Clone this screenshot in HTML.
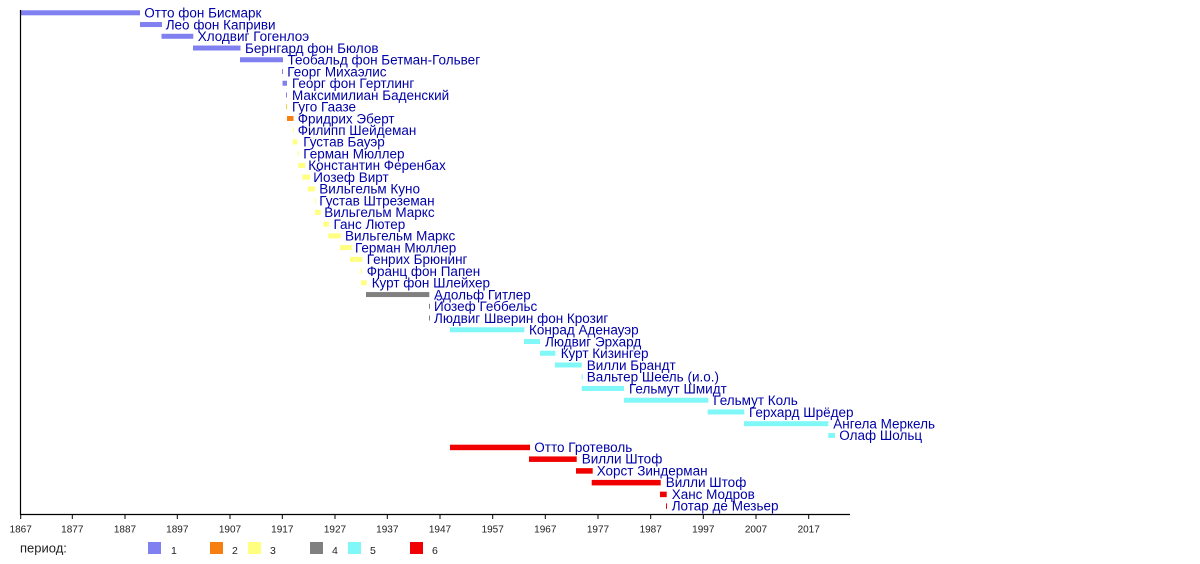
<!DOCTYPE html>
<html>
<head>
<meta charset="utf-8">
<style>
html,body{margin:0;padding:0;background:#fff;}
svg{display:block;}
text{font-family:"Liberation Sans","DejaVu Sans",sans-serif;}
.n{font-size:13.5px;fill:#0000a8;}
.t{font-size:10px;fill:#222;text-anchor:middle;}
.l{font-size:10.5px;fill:#222;}
</style>
</head>
<body>
<svg width="1200" height="564" viewBox="0 0 1200 564" xmlns="http://www.w3.org/2000/svg">
<rect x="0" y="0" width="1200" height="564" fill="#fff"/>
<g>
<rect x="20.5" y="10.3" width="119.5" height="5" fill="#8080f0"/>
<rect x="140" y="22.04" width="22" height="5" fill="#8080f0"/>
<rect x="161.5" y="33.78" width="31.8" height="5" fill="#8080f0"/>
<rect x="193" y="45.52" width="47.5" height="5" fill="#8080f0"/>
<rect x="240" y="57.26" width="43" height="5" fill="#8080f0"/>
<rect x="282" y="69" width="1" height="5" fill="#8080f0"/>
<rect x="282.5" y="80.74" width="4.5" height="5" fill="#8080f0"/>
<rect x="286" y="92.48" width="1" height="5" fill="#8080f0"/>
<rect x="286" y="104.22" width="1" height="5" fill="#f0d040"/>
<rect x="287" y="115.96" width="6.5" height="5" fill="#f58010"/>
<rect x="293" y="127.7" width="1" height="5" fill="#ffff90"/>
<rect x="292.7" y="139.44" width="4.6" height="5" fill="#ffff80"/>
<rect x="297.5" y="151.18" width="1.2" height="5" fill="#ffff90"/>
<rect x="298.3" y="162.92" width="6.7" height="5" fill="#ffff80"/>
<rect x="302.3" y="174.66" width="7.7" height="5" fill="#ffff80"/>
<rect x="307.7" y="186.4" width="7.3" height="5" fill="#ffff80"/>
<rect x="315" y="198.14" width="1" height="5" fill="#ffff90"/>
<rect x="315" y="209.88" width="5.7" height="5" fill="#ffff80"/>
<rect x="323.3" y="221.62" width="5.7" height="5" fill="#ffff80"/>
<rect x="328.3" y="233.36" width="12.4" height="5" fill="#ffff80"/>
<rect x="340" y="245.1" width="11.7" height="5" fill="#ffff80"/>
<rect x="350" y="256.84" width="12.3" height="5" fill="#ffff80"/>
<rect x="360.5" y="268.58" width="1.5" height="5" fill="#ffff90"/>
<rect x="361" y="280.32" width="5.7" height="5" fill="#ffff80"/>
<rect x="366" y="292.06" width="63.3" height="5" fill="#808080"/>
<rect x="429" y="303.8" width="1" height="5" fill="#808080"/>
<rect x="429" y="315.54" width="1" height="5" fill="#808080"/>
<rect x="450" y="327.28" width="74.3" height="5" fill="#80f8f8"/>
<rect x="524" y="339.02" width="16" height="5" fill="#80f8f8"/>
<rect x="540" y="350.76" width="15.3" height="5" fill="#80f8f8"/>
<rect x="555" y="362.5" width="26.7" height="5" fill="#80f8f8"/>
<rect x="581.7" y="374.24" width="1" height="5" fill="#80f8f8"/>
<rect x="581.7" y="385.98" width="42.3" height="5" fill="#80f8f8"/>
<rect x="624" y="397.72" width="84.3" height="5" fill="#80f8f8"/>
<rect x="707.7" y="409.46" width="36.6" height="5" fill="#80f8f8"/>
<rect x="744" y="421.2" width="84.3" height="5" fill="#80f8f8"/>
<rect x="828.3" y="432.94" width="6.7" height="5" fill="#80f8f8"/>
<rect x="450" y="444.68" width="80" height="5.5" fill="#f00000"/>
<rect x="529" y="456.42" width="47.7" height="5.5" fill="#f00000"/>
<rect x="576" y="468.16" width="16.7" height="5.5" fill="#f00000"/>
<rect x="591.7" y="479.9" width="69" height="5.5" fill="#f00000"/>
<rect x="660" y="491.64" width="6.7" height="5.5" fill="#f00000"/>
<rect x="666" y="503.38" width="1" height="5.5" fill="#f00000"/>
</g>
<g class="n">
<text x="144.3" y="17.6">Отто фон Бисмарк</text>
<text x="165.7" y="29.34">Лео фон Каприви</text>
<text x="197.7" y="41.08">Хлодвиг Гогенлоэ</text>
<text x="245" y="52.82">Бернгард фон Бюлов</text>
<text x="287.5" y="64.56">Теобальд фон Бетман-Гольвег</text>
<text x="287.3" y="76.3">Георг Михаэлис</text>
<text x="292" y="88.04">Георг фон Гертлинг</text>
<text x="292" y="99.78">Максимилиан Баденский</text>
<text x="292" y="111.52">Гуго Гаазе</text>
<text x="297.7" y="123.26">Фридрих Эберт</text>
<text x="297.7" y="135">Филипп Шейдеман</text>
<text x="303.3" y="146.74">Густав Бауэр</text>
<text x="303.3" y="158.48">Герман Мюллер</text>
<text x="308.3" y="170.22">Константин Ференбах</text>
<text x="313.3" y="181.96">Йозеф Вирт</text>
<text x="319.3" y="193.7">Вильгельм Куно</text>
<text x="319.3" y="205.44">Густав Штреземан</text>
<text x="324.3" y="217.18">Вильгельм Маркс</text>
<text x="333.5" y="228.92">Ганс Лютер</text>
<text x="345" y="240.66">Вильгельм Маркс</text>
<text x="355" y="252.4">Герман Мюллер</text>
<text x="366.7" y="264.14">Генрих Брюнинг</text>
<text x="366.7" y="275.88">Франц фон Папен</text>
<text x="371.7" y="287.62">Курт фон Шлейхер</text>
<text x="434" y="299.36">Адольф Гитлер</text>
<text x="434" y="311.1">Йозеф Геббельс</text>
<text x="434" y="322.84">Людвиг Шверин фон Крозиг</text>
<text x="529" y="334.58">Конрад Аденауэр</text>
<text x="545" y="346.32">Людвиг Эрхард</text>
<text x="560.7" y="358.06">Курт Кизингер</text>
<text x="586.7" y="369.8">Вилли Брандт</text>
<text x="586.7" y="381.54">Вальтер Шеель (и.о.)</text>
<text x="629" y="393.28">Гельмут Шмидт</text>
<text x="713.3" y="405.02">Гельмут Коль</text>
<text x="749" y="416.76">Герхард Шрёдер</text>
<text x="833.3" y="428.5">Ангела Меркель</text>
<text x="839.3" y="440.24">Олаф Шольц</text>
<text x="534.3" y="451.98">Отто Гротеволь</text>
<text x="581.7" y="463.72">Вилли Штоф</text>
<text x="596.7" y="475.46">Хорст Зиндерман</text>
<text x="665.7" y="487.2">Вилли Штоф</text>
<text x="671.7" y="498.94">Ханс Модров</text>
<text x="671.7" y="510.68">Лотар де Мезьер</text>
</g>
<line x1="20.5" y1="10" x2="20.5" y2="515" stroke="#000" stroke-width="1.2"/>
<line x1="20" y1="514.5" x2="850" y2="514.5" stroke="#000" stroke-width="1.2"/>
<g stroke="#000" stroke-width="1">
<line x1="20.7" y1="514" x2="20.7" y2="519"/>
<line x1="72.3" y1="514" x2="72.3" y2="519"/>
<line x1="125" y1="514" x2="125" y2="519"/>
<line x1="177.3" y1="514" x2="177.3" y2="519"/>
<line x1="230" y1="514" x2="230" y2="519"/>
<line x1="282.3" y1="514" x2="282.3" y2="519"/>
<line x1="335" y1="514" x2="335" y2="519"/>
<line x1="387.3" y1="514" x2="387.3" y2="519"/>
<line x1="440" y1="514" x2="440" y2="519"/>
<line x1="492.7" y1="514" x2="492.7" y2="519"/>
<line x1="545.3" y1="514" x2="545.3" y2="519"/>
<line x1="598" y1="514" x2="598" y2="519"/>
<line x1="650.7" y1="514" x2="650.7" y2="519"/>
<line x1="703.3" y1="514" x2="703.3" y2="519"/>
<line x1="756" y1="514" x2="756" y2="519"/>
<line x1="808.7" y1="514" x2="808.7" y2="519"/>
</g>
<g class="t">
<text x="20.7" y="532.5">1867</text>
<text x="72.3" y="532.5">1877</text>
<text x="125" y="532.5">1887</text>
<text x="177.3" y="532.5">1897</text>
<text x="230" y="532.5">1907</text>
<text x="282.3" y="532.5">1917</text>
<text x="335" y="532.5">1927</text>
<text x="387.3" y="532.5">1937</text>
<text x="440" y="532.5">1947</text>
<text x="492.7" y="532.5">1957</text>
<text x="545.3" y="532.5">1967</text>
<text x="598" y="532.5">1977</text>
<text x="650.7" y="532.5">1987</text>
<text x="703.3" y="532.5">1997</text>
<text x="756" y="532.5">2007</text>
<text x="808.7" y="532.5">2017</text>
</g>
<text x="20" y="552.7" style="font-size:13px;fill:#222;">период:</text>
<rect x="148" y="542" width="13" height="12" fill="#8080f0"/>
<text class="l" x="171" y="554">1</text>
<rect x="210" y="542" width="13" height="12" fill="#f58010"/>
<text class="l" x="232" y="554">2</text>
<rect x="248" y="542" width="13" height="12" fill="#ffff80"/>
<text class="l" x="270" y="554">3</text>
<rect x="310" y="542" width="13" height="12" fill="#808080"/>
<text class="l" x="332" y="554">4</text>
<rect x="348" y="542" width="13" height="12" fill="#80f8f8"/>
<text class="l" x="370" y="554">5</text>
<rect x="410" y="542" width="13" height="12" fill="#f00000"/>
<text class="l" x="432" y="554">6</text>
</svg>
</body>
</html>
